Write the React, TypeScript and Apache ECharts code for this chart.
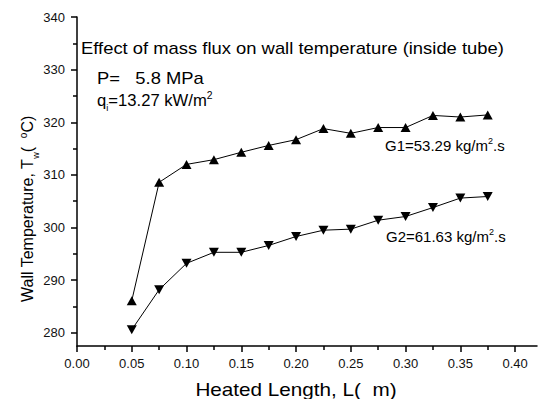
import React, { useEffect, useRef } from "react";
import * as echarts from "echarts";

const lengths = [0.05, 0.075, 0.1, 0.125, 0.15, 0.175, 0.2, 0.225, 0.25, 0.275, 0.3, 0.325, 0.35, 0.375];
const g1Temps = [286.1, 308.6, 312.0, 312.9, 314.3, 315.6, 316.7, 318.8, 317.9, 319.0, 319.0, 321.3, 321.0, 321.4];
const g2Temps = [280.6, 288.2, 293.2, 295.3, 295.3, 296.6, 298.3, 299.5, 299.7, 301.4, 302.1, 303.8, 305.6, 305.9];
const xMajorTicks = [0, 0.05, 0.1, 0.15, 0.2, 0.25, 0.3, 0.35, 0.4];
const xMinorTicks = [0.025, 0.075, 0.125, 0.175, 0.225, 0.275, 0.325, 0.375];
const yMajorTicks = [280, 290, 300, 310, 320, 330, 340];
const yMinorTicks = [285, 295, 305, 315, 325, 335];

const FONT = "'Liberation Sans', Arial, sans-serif";

export default function App() {
  const ref = useRef<HTMLDivElement>(null);
  useEffect(() => {
    if (!ref.current) return;
    const chart = echarts.init(ref.current, undefined, { renderer: "svg" });
    const G1 = lengths.map((x, i) => [x, g1Temps[i]]);
    const G2 = lengths.map((x, i) => [x, g2Temps[i]]);
    const axisLine = { show: true, lineStyle: { color: "#000", width: 1.5 } };
    const yCommon = { type: "value", min: 277.5, max: 340, splitLine: { show: false } };
    const xCommon = { type: "value", min: 0, max: 0.42, splitLine: { show: false } };
    chart.setOption({
      animation: false,
      backgroundColor: "#fff",
      grid: { left: 77, top: 17, width: 460, height: 329, containLabel: false },
      xAxis: [
        {
          ...xCommon,
          axisLine,
          axisTick: { show: true, inside: false, length: 6, customValues: xMajorTicks, lineStyle: { color: "#000", width: 1.5 } },
          axisLabel: {
            customValues: xMajorTicks,
            formatter: (v: number) => v.toFixed(2),
            fontFamily: FONT,
            fontSize: 13,
            color: "#111",
            margin: 11,
          },
        },
        {
          ...xCommon,
          position: "bottom",
          axisLine: { show: false },
          axisTick: { show: true, inside: false, length: 4, customValues: xMinorTicks, lineStyle: { color: "#000", width: 1.5 } },
          axisLabel: { show: false },
        },
      ],
      yAxis: [
        {
          ...yCommon,
          axisLine,
          axisTick: { show: true, inside: false, length: 6, customValues: yMajorTicks, lineStyle: { color: "#000", width: 1.5 } },
          axisLabel: {
            customValues: yMajorTicks,
            formatter: (v: number) => String(Math.round(v)),
            fontFamily: FONT,
            fontSize: 13,
            color: "#111",
            margin: 12,
          },
        },
        {
          ...yCommon,
          position: "left",
          axisLine: { show: false },
          axisTick: { show: true, inside: false, length: 4, customValues: yMinorTicks, lineStyle: { color: "#000", width: 1.5 } },
          axisLabel: { show: false },
        },
      ],
      series: [
        {
          name: "G1",
          type: "line",
          data: G1,
          xAxisIndex: 0,
          yAxisIndex: 0,
          symbol: "triangle",
          symbolSize: [10, 9],
          itemStyle: { color: "#000" },
          lineStyle: { color: "#000", width: 1 },
        },
        {
          name: "G2",
          type: "line",
          data: G2,
          xAxisIndex: 0,
          yAxisIndex: 0,
          symbol: "triangle",
          symbolRotate: 180,
          symbolSize: [10, 9],
          itemStyle: { color: "#000" },
          lineStyle: { color: "#000", width: 1 },
        },
      ],
      graphic: [
        {
          type: "text",
          x: 81,
          y: 48,
          scaleX: 1.15,
          style: {
            text: "Effect of mass flux on wall temperature (inside tube)",
            font: `16px ${FONT}`,
            fill: "#000",
            verticalAlign: "middle",
          },
        },
        {
          type: "text",
          x: 97,
          y: 78,
          scaleX: 1.15,
          style: {
            text: "P=\u00a0\u00a0\u00a05.8 MPa",
            font: `16px ${FONT}`,
            fill: "#000",
            verticalAlign: "middle",
          },
        },
        {
          type: "text",
          x: 97,
          y: 100,
          scaleX: 1.04,
          style: {
            text: "{n|q}{sub|i}{n|=13.27 kW/m}{sup|2}",
            fill: "#000",
            verticalAlign: "middle",
            rich: {
              n: { fontSize: 16, fontFamily: FONT, lineHeight: 18, verticalAlign: "middle" },
              sub: { fontSize: 9, fontFamily: FONT, lineHeight: 18, verticalAlign: "bottom", padding: [0, 0, -4, 0] },
              sup: { fontSize: 10, fontFamily: FONT, lineHeight: 18, verticalAlign: "top" },
            },
          },
        },
        {
          type: "text",
          x: 385,
          y: 145,
          style: {
            text: "{n|G1=53.29 kg/m}{sup|2}{n|.s}",
            fill: "#000",
            verticalAlign: "middle",
            rich: {
              n: { fontSize: 15, fontFamily: FONT, lineHeight: 17, verticalAlign: "middle" },
              sup: { fontSize: 9, fontFamily: FONT, lineHeight: 17, verticalAlign: "top" },
            },
          },
        },
        {
          type: "text",
          x: 386,
          y: 236,
          style: {
            text: "{n|G2=61.63 kg/m}{sup|2}{n|.s}",
            fill: "#000",
            verticalAlign: "middle",
            rich: {
              n: { fontSize: 15, fontFamily: FONT, lineHeight: 17, verticalAlign: "middle" },
              sup: { fontSize: 9, fontFamily: FONT, lineHeight: 17, verticalAlign: "top" },
            },
          },
        },
        {
          type: "text",
          x: 27,
          y: 209,
          rotation: Math.PI / 2,
          style: {
            text: "{n|Wall Temperature, T}{sub|w}{n|(\u00a0\u00a0}{sup|o}{n|C)}",
            fill: "#000",
            align: "center",
            verticalAlign: "middle",
            rich: {
              n: { fontSize: 16, fontFamily: FONT, lineHeight: 18, verticalAlign: "middle" },
              sub: { fontSize: 9, fontFamily: FONT, lineHeight: 18, verticalAlign: "bottom", padding: [0, 0, -4, 0] },
              sup: { fontSize: 10, fontFamily: FONT, lineHeight: 18, verticalAlign: "top" },
            },
          },
        },
        {
          type: "text",
          x: 296,
          y: 390,
          scaleX: 1.15,
          style: {
            text: "Heated Length, L(\u00a0\u00a0m)",
            font: `18px ${FONT}`,
            fill: "#000",
            align: "center",
            verticalAlign: "middle",
          },
        },
      ],
    });
    return () => chart.dispose();
  }, []);
  return <div ref={ref} style={{ width: 539, height: 399, position: "absolute", left: 0, top: 0 }} />;
}
